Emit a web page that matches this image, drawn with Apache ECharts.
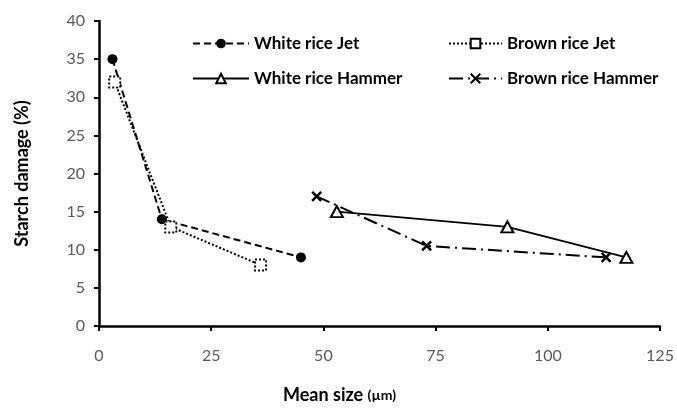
<!DOCTYPE html>
<html>
<head>
<meta charset="utf-8">
<script src="https://cdn.jsdelivr.net/npm/echarts@6/dist/echarts.min.js"></script>
<style>
  html, body { margin: 0; padding: 0; background: #fff; }
  #chart { width: 677px; height: 409px; }
</style>
</head>
<body>
<div id="chart"></div>
<script>
// values
const whiteJet = [[3, 35], [14, 14], [45, 9]];
const brownJet = [[3.5, 32], [16, 13], [36, 8]];
const whiteHammer = [[53, 15], [91, 13], [117.5, 9]];
const brownHammer = [[48.5, 17], [73, 10.5], [113, 9]];

const FONT = 'Lato';
const crossPath = 'path://M0,0L10,10M10,0L0,10';

const chart = echarts.init(document.getElementById('chart'));

const legendText = {
    fontFamily: FONT,
    fontWeight: 'bold',
    fontSize: 17,
    color: '#000',
};

const option = {
    animation: false,
    textStyle: { fontFamily: FONT },
    grid: {
        left: 99,
        right: 17,
        top: 21,
        bottom: 81,
        containLabel: false,
    },
    legend: [
        {
            orient: 'vertical',
            left: 192,
            top: 35,
            itemWidth: 56,
            itemHeight: 12,
            itemGap: 18,
            padding: 0,
            textStyle: legendText,
            data: ['White rice Jet', 'White rice Hammer'],
        },
        {
            orient: 'vertical',
            left: 448,
            top: 35,
            itemWidth: 53,
            itemHeight: 12,
            itemGap: 18,
            padding: 0,
            textStyle: legendText,
            data: ['Brown rice Jet', 'Brown rice Hammer'],
        },
    ],
    xAxis: {
        type: 'value',
        min: 0,
        max: 125,
        interval: 25,
        name: 'Mean size {s|(µm)}',
        nameLocation: 'middle',
        nameGap: 60,
        nameTextStyle: {
            fontFamily: FONT,
            fontWeight: 'bold',
            fontSize: 18,
            color: '#000',
            padding: [0, 80, 0, 0],
            rich: { s: { fontFamily: FONT, fontWeight: 'bold', fontSize: 14, color: '#000' } },
        },
        axisLine: { onZero: false, lineStyle: { color: '#000', width: 2.5 } },
        axisTick: { show: true, length: 5, lineStyle: { color: '#000', width: 2 } },
        axisLabel: { margin: 22, fontSize: 16, color: '#595959', fontFamily: FONT },
        splitLine: { show: false },
    },
    yAxis: {
        type: 'value',
        min: 0,
        max: 40,
        interval: 5,
        name: 'Starch damage (%)',
        nameLocation: 'middle',
        nameGap: 68,
        nameTextStyle: {
            fontFamily: FONT,
            fontWeight: 'bold',
            fontSize: 18,
            color: '#000',
        },
        axisLine: { show: true, lineStyle: { color: '#000', width: 2.5 } },
        axisTick: { show: true, length: 5, lineStyle: { color: '#000', width: 2 } },
        axisLabel: { margin: 14, fontSize: 16, color: '#595959', fontFamily: FONT },
        splitLine: { show: false },
    },
    series: [
        {
            name: 'White rice Jet',
            type: 'line',
            data: whiteJet,
            symbol: 'circle',
            symbolSize: 10,
            itemStyle: { color: '#000' },
            lineStyle: { color: '#000', width: 2, type: [7, 4] },
        },
        {
            name: 'Brown rice Jet',
            type: 'line',
            data: brownJet,
            symbol: 'rect',
            symbolSize: 11,
            itemStyle: { color: '#fff', borderColor: '#000', borderWidth: 2, borderType: [2, 2] },
            lineStyle: { color: '#000', width: 2, type: [2, 2] },
        },
        {
            name: 'White rice Hammer',
            type: 'line',
            data: whiteHammer,
            symbol: 'triangle',
            symbolSize: [12, 11],
            itemStyle: { color: '#fff', borderColor: '#000', borderWidth: 2 },
            lineStyle: { color: '#000', width: 2, type: 'solid' },
            z: 3,
        },
        {
            name: 'Brown rice Hammer',
            type: 'line',
            data: brownHammer,
            symbol: crossPath,
            symbolSize: 9,
            itemStyle: { color: 'none', borderColor: '#000', borderWidth: 2.5 },
            lineStyle: { color: '#000', width: 2, type: [14, 5, 2, 5] },
            z: 2,
        },
    ],
};

chart.setOption(option);
</script>
</body>
</html>
